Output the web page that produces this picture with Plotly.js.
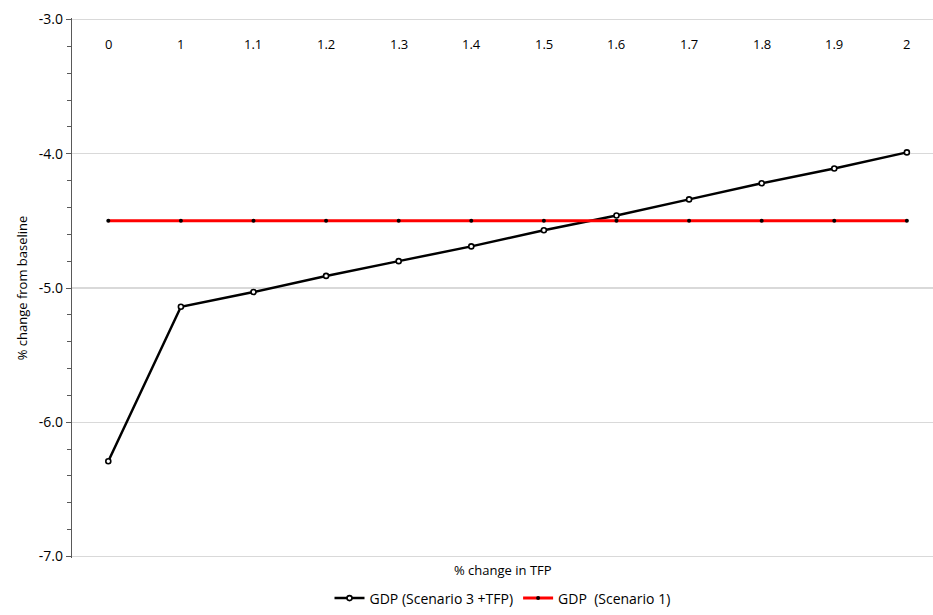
<!DOCTYPE html>
<html>
<head>
<meta charset="utf-8">
<script src="https://cdn.plot.ly/plotly-3.0.1.min.js"></script>
<style>html,body{margin:0;padding:0;background:#fff;}#chart{width:933px;height:615px;}</style>
</head>
<body>
<div id="chart"></div>
<script>
const categories = ["0","1","1.1","1.2","1.3","1.4","1.5","1.6","1.7","1.8","1.9","2"];
const gdpScenario3TFP = [-6.29,-5.14,-5.03,-4.91,-4.80,-4.69,-4.57,-4.46,-4.34,-4.22,-4.11,-3.99];
const gdpScenario1 = [-4.5,-4.5,-4.5,-4.5,-4.5,-4.5,-4.5,-4.5,-4.5,-4.5,-4.5,-4.5];
const yTickVals = [-7,-6,-5,-4,-3];
const yTickText = ["-7.0","-6.0","-5.0","-4.0","-3.0"];

const font = "Open Sans, Noto Sans, sans-serif";

const traces = [
  {
    x: categories, y: gdpScenario3TFP, type: "scatter", mode: "lines+markers",
    name: "GDP (Scenario 3 +TFP)",
    line: {color: "#000000", width: 2.5},
    marker: {symbol: "circle", size: 5, color: "#ffffff", line: {color: "#000000", width: 1.6}}
  },
  {
    x: categories, y: gdpScenario1, type: "scatter", mode: "lines+markers",
    name: "GDP  (Scenario 1)",
    line: {color: "#ff0000", width: 3},
    marker: {symbol: "circle", size: 4, color: "#000000"}
  }
];

const layout = {
  width: 933, height: 615,
  margin: {l: 72, r: 0, t: 18, b: 57},
  paper_bgcolor: "#ffffff", plot_bgcolor: "#ffffff",
  font: {family: font, size: 12, color: "#000000"},
  showlegend: true,
  legend: {orientation: "h", x: 0.5, xanchor: "center", y: -0.075, yanchor: "middle",
           font: {family: font, size: 14, color: "#000000"}, traceorder: "normal"},
  xaxis: {
    type: "category", side: "top", range: [-0.5, 11.36],
    showticklabels: false, ticks: "",
    showgrid: false, zeroline: false, showline: false
  },
  yaxis: {
    range: [-7.011, -2.989], tickvals: yTickVals, ticktext: yTickText,
    showgrid: true, gridcolor: "#d9d9d9", gridwidth: 1.2, zeroline: false,
    showline: true, linecolor: "#595959", linewidth: 1.2,
    ticks: "outside", ticklen: 5, tickcolor: "#595959",
    minor: {dtick: 0.2, ticks: "outside", ticklen: 4, tickcolor: "#595959", showgrid: false},
    tickfont: {family: font, size: 14, color: "#000000"},
    title: {text: "% change from baseline", font: {family: font, size: 13, color: "#000000"}, standoff: 8}
  },
  annotations: [
    {text: "% change in TFP", xref: "paper", yref: "paper", x: 0.5, y: -0.022, yanchor: "middle",
     showarrow: false, font: {family: font, size: 13, color: "#000000"}}
  ].concat(categories.map((c, i) => ({
    text: c, x: i, xref: "x", y: 1, yref: "paper", yanchor: "middle", yshift: -26,
    showarrow: false, font: {family: font, size: 13, color: "#000000"}
  })))
};

Plotly.newPlot("chart", traces, layout, {displayModeBar: false, staticPlot: true});
</script>
</body>
</html>
